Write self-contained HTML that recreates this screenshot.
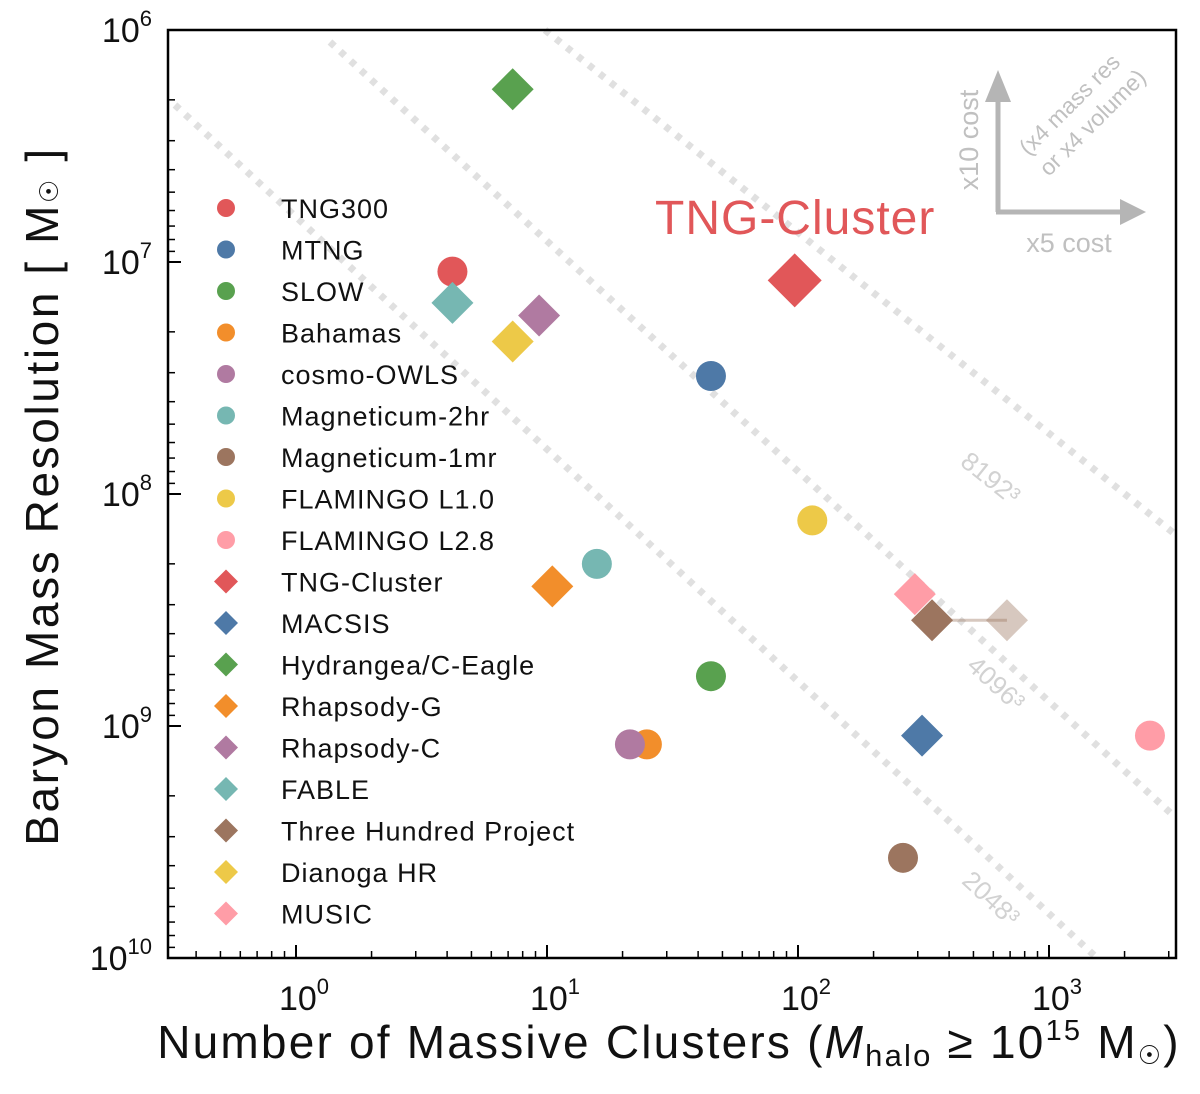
<!DOCTYPE html>
<html><head><meta charset="utf-8"><style>
body{margin:0;background:#fff;}
svg text{font-family:"Liberation Sans",sans-serif;}
</style></head><body>
<svg id="chart" width="1200" height="1089" xmlns="http://www.w3.org/2000/svg">
<g id="bg"></g>
<g id="marks"></g>
<g id="axes"></g>
</svg>
<script>
const names=["TNG300","MTNG","SLOW","Bahamas","cosmo-OWLS","Magneticum-2hr","Magneticum-1mr","FLAMINGO L1.0","FLAMINGO L2.8","TNG-Cluster","MACSIS","Hydrangea/C-Eagle","Rhapsody-G","Rhapsody-C","FABLE","Three Hundred Project","Dianoga HR","MUSIC"];
const colors=["#E15759","#4E79A7","#59A14F","#F28E2B","#B07AA1","#76B7B2","#9C755F","#EDC948","#FF9DA7","#E15759","#4E79A7","#59A14F","#F28E2B","#B07AA1","#76B7B2","#9C755F","#EDC948","#FF9DA7"];
const shapes=["c","c","c","c","c","c","c","c","c","d","d","d","d","d","d","d","d","d"];
const nClusters=[4.2,45,45,25,21.4,15.8,262,114,2525,97,312,7.3,10.5,9.3,4.2,342,7.3,292];
const massRes=[1.1e7,3.1e7,6.1e8,1.2e9,1.2e9,2.0e8,3.7e9,1.3e8,1.1e9,1.2e7,1.1e9,1.8e6,2.5e8,1.7e7,1.5e7,3.5e8,2.2e7,2.7e8];
const drawOrder=[0,1,2,3,4,5,6,7,8,9,10,11,12,13,14,17,15,16];
const fadedN=[680], fadedM=[3.5e8];
const xTicks=[0,1,2,3], yTicks=[6,7,8,9,10];

const L=168,R=1176,T=30,B=958;
function X(n){return 296+Math.log10(n)*251;}
function Y(m){return T+(Math.log10(m)-6)*232;}
const NS="http://www.w3.org/2000/svg";
function mk(tag,attrs,parent,txt){const e=document.createElementNS(NS,tag);for(const k in attrs)e.setAttribute(k,attrs[k]);if(txt!==undefined)e.textContent=txt;parent.appendChild(e);return e;}
const bg=document.getElementById('bg'),marks=document.getElementById('marks'),axes=document.getElementById('axes');

// guide lines (decorative)
const guides=[[175,105,1097,958,"2048³",985,905],[330,42,1176,818,"4096³",990,690],[545,30,1176,535,"8192³",985,485]];
guides.forEach(g=>{
 const l=mk('line',{x1:g[0],y1:g[1],x2:g[2],y2:g[3],stroke:'#e0e0e0','stroke-width':7,'stroke-dasharray':'6 8','stroke-linecap':'butt'},bg);
 
 
 const ang=Math.atan2(g[3]-g[1],g[2]-g[0])*180/Math.PI;
 const t=mk('text',{x:g[5],y:g[6],fill:'#d2d2d2','font-size':26,'text-anchor':'middle',transform:`rotate(${ang} ${g[5]} ${g[6]})`},bg,g[4]);
 
 
});

// cost arrows
const ar=mk('g',{},bg);


mk('line',{x1:998,y1:212,x2:998,y2:100,stroke:'#b5b5b5','stroke-width':5},ar);
mk('polygon',{points:'985,102 1011,102 998,70',fill:'#b5b5b5'},ar);
mk('line',{x1:996,y1:212,x2:1120,y2:212,stroke:'#b5b5b5','stroke-width':5},ar);
mk('polygon',{points:'1120,199 1120,225 1146,212',fill:'#b5b5b5'},ar);
mk('text',{x:978,y:140,fill:'#c0c0c0','font-size':27,'text-anchor':'middle',transform:'rotate(-90 978 140)'},ar,'x10 cost');
mk('text',{x:1069,y:252,fill:'#c0c0c0','font-size':27,'text-anchor':'middle'},ar,'x5 cost');
mk('text',{x:1075,y:110,fill:'#c0c0c0','font-size':23,'text-anchor':'middle',transform:'rotate(-45 1075 110)'},ar,'(x4 mass res');
mk('text',{x:1098,y:128,fill:'#c0c0c0','font-size':23,'text-anchor':'middle',transform:'rotate(-45 1098 128)'},ar,'or x4 volume)');

// TNG-Cluster label
const tl=mk('text',{x:655,y:234,fill:'#E15759','font-size':48,'letter-spacing':1},bg,'TNG-Cluster');



function diamond(cx,cy,r,fill,op,parent){return mk('polygon',{points:`${cx},${cy-r} ${cx+r},${cy} ${cx},${cy+r} ${cx-r},${cy}`,fill:fill,'fill-opacity':op},parent);}

// faded Three Hundred
const fl=mk('line',{x1:X(nClusters[15]),y1:Y(massRes[15]),x2:X(fadedN[0]),y2:Y(fadedM[0]),stroke:'#9C755F','stroke-opacity':0.4,'stroke-width':3},marks);


const fd=diamond(X(fadedN[0]),Y(fadedM[0]),21,'#9C755F',0.4,marks);



drawOrder.forEach(i=>{
 const cx=X(nClusters[i]),cy=Y(massRes[i]);
 let e;
 if(shapes[i]==='c') e=mk('circle',{cx:cx,cy:cy,r:15,fill:colors[i]},marks);
 else e=diamond(cx,cy,i===9?27:21,colors[i],1,marks);
 
 
});

// legend
const lg=mk('g',{},axes);


names.forEach((n,i)=>{
 const y=208+i*41.5;
 const g=mk('g',{},lg);
 
 
 if(shapes[i]==='c') mk('circle',{cx:226,cy:y,r:9,fill:colors[i]},g);
 else diamond(226,y,12,colors[i],1,g);
 mk('text',{x:281,y:y+10,'font-size':27,'letter-spacing':1,fill:'#111'},g,n);
});

// frame
const fr=mk('rect',{x:L,y:T,width:R-L,height:B-T,fill:'none',stroke:'#000','stroke-width':2.5},axes);



// y ticks
yTicks.forEach(p=>{
 const y=Y(Math.pow(10,p));
 mk('line',{x1:L,y1:y,x2:L+13,y2:y,stroke:'#000','stroke-width':2},axes);
 const t=mk('text',{x:152,y:y+12,'font-size':34,'text-anchor':'end',fill:'#111'},axes);
 
 
 t.appendChild(document.createTextNode('10'));
 mk('tspan',{dy:-16,'font-size':22},t,String(p));
 if(p<10) for(let k=2;k<10;k++){const yy=Y(k*Math.pow(10,p));mk('line',{x1:L,y1:yy,x2:L+7,y2:yy,stroke:'#000','stroke-width':1.5},axes);}
});
// x ticks
for(let p=-1;p<=3;p++){
 for(let k=1;k<10;k++){
  const x=X(k*Math.pow(10,p));
  if(x<L||x>R)continue;
  const maj=k===1;
  mk('line',{x1:x,y1:B,x2:x,y2:B-(maj?13:7),stroke:'#000','stroke-width':maj?2:1.5},axes);
 }
}
xTicks.forEach(p=>{
 const x=X(Math.pow(10,p));
 const t=mk('text',{x:x+8,y:1010,'font-size':34,'text-anchor':'middle',fill:'#111'},axes);
 
 
 t.appendChild(document.createTextNode('10'));
 mk('tspan',{dy:-16,'font-size':22},t,String(p));
});

// axis titles
const yt=mk('text',{x:58,y:496,'font-size':46,'letter-spacing':2.6,'text-anchor':'middle',fill:'#111',transform:'rotate(-90 58 496)'},axes);


yt.appendChild(document.createTextNode('Baryon Mass Resolution [ M'));
mk('tspan',{'font-size':26},yt,'\u2609');
mk('tspan',{},yt,' ]');
const xt=mk('text',{x:669,y:1058,'font-size':46,'letter-spacing':2.2,'text-anchor':'middle',fill:'#111'},axes);


xt.appendChild(document.createTextNode('Number of Massive Clusters ('));
mk('tspan',{'font-style':'italic'},xt,'M');
mk('tspan',{'font-size':31,dy:8},xt,'halo');
mk('tspan',{dy:-8},xt,' \u2265 10');
mk('tspan',{'font-size':29,dy:-18},xt,'15');
mk('tspan',{dy:18},xt,' M');
mk('tspan',{'font-size':26,dy:6},xt,'\u2609');
mk('tspan',{dy:-6},xt,')');
</script>
</body></html>
